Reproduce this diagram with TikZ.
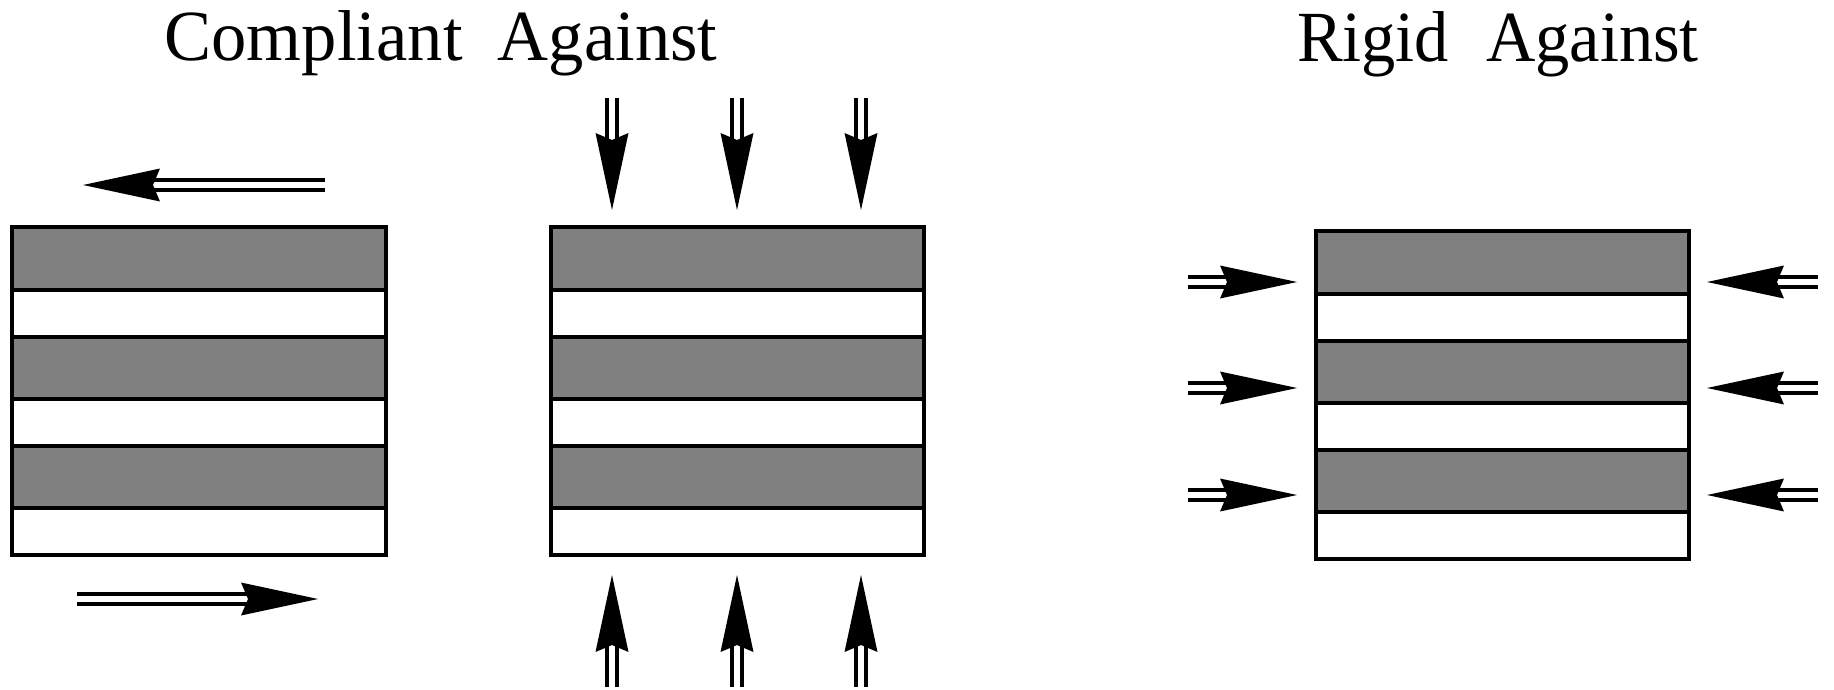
\documentclass[tikz,border=0pt]{standalone}
\usepackage{fontspec}
\setmainfont{Liberation Serif}
\usetikzlibrary{calc}
\definecolor{stripegray}{RGB}{128,128,128}
\tikzset{
  frame/.style={draw=black, line width=4pt},
  shaft/.style={draw=black, line width=4pt},
  headfill/.style={fill=black},
  title/.style={inner sep=0pt, anchor=base, font=\fontsize{72}{86}\selectfont},
}
% #1 left x, #2 top y, #3 width
\newcommand\layerstack[3]{%
  \begin{scope}[shift={(#1,#2)}]
    \fill[stripegray] (0,0) rectangle (#3,63);
    \fill[stripegray] (0,110) rectangle (#3,172);
    \fill[stripegray] (0,219) rectangle (#3,281);
    \foreach \yy in {63,110,172,219,281} \draw[frame] (0,\yy) -- (#3,\yy);
    \draw[frame] (0,0) rectangle (#3,328);
  \end{scope}}
% #1 tail coordinate name, #2 tip coordinate name
\newcommand\dblarrow[2]{%
  \draw[shaft] ($(#1)!5pt!-90:(#2)$) -- ($($(#2)!60pt!(#1)$)!5pt!90:(#1)$);
  \draw[shaft] ($(#1)!5pt!90:(#2)$) -- ($($(#2)!60pt!(#1)$)!5pt!-90:(#1)$);
  \fill[headfill] (#2) -- ($($(#2)!77pt!(#1)$)!16.5pt!90:(#1)$)
     -- ($(#2)!70pt!(#1)$) -- ($($(#2)!77pt!(#1)$)!16.5pt!-90:(#1)$) -- cycle;}
\begin{document}
\begin{tikzpicture}[x=1pt,y=-1pt]
  \useasboundingbox (0,0) rectangle (1834,690);
  \node[title] (tleft) at (441,61) {\scalebox{0.98}[1]{Compliant\hspace{0.5em}Against}};
  \node[title] (tright) at (1498,62) {\scalebox{0.95}[1]{Rigid\hspace{0.54em}Against}};

  \layerstack{12}{227}{374}
  \layerstack{551}{227}{373}
  \layerstack{1316}{231}{373}

  % shear arrows
  \coordinate (s1a) at (325,185); \coordinate (s1b) at (83,185);
  \coordinate (s2a) at (77,599);  \coordinate (s2b) at (318,599);
  \dblarrow{s1a}{s1b}
  \dblarrow{s2a}{s2b}

  % vertical compression arrows
  \foreach \xx [count=\i] in {612,737,861} {
    \coordinate (ta\i) at (\xx,98);  \coordinate (tb\i) at (\xx,210);
    \coordinate (ba\i) at (\xx,687); \coordinate (bb\i) at (\xx,575);
    \dblarrow{ta\i}{tb\i}
    \dblarrow{ba\i}{bb\i}
  }

  % horizontal compression arrows
  \foreach \yy [count=\i] in {282,388,495} {
    \coordinate (la\i) at (1188,\yy); \coordinate (lb\i) at (1297,\yy);
    \coordinate (ra\i) at (1818,\yy); \coordinate (rb\i) at (1707,\yy);
    \dblarrow{la\i}{lb\i}
    \dblarrow{ra\i}{rb\i}
  }
\end{tikzpicture}
\end{document}
